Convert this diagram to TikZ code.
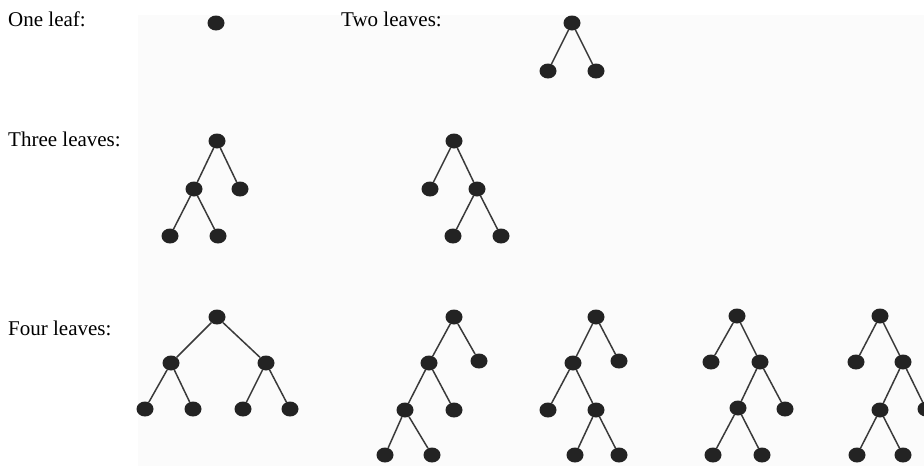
\documentclass[tikz,border=0pt]{standalone}
\usepackage{fontspec}
\setmainfont{Liberation Serif}
\usetikzlibrary{shapes.geometric}
\definecolor{dotgrey}{HTML}{232323}
\definecolor{wiregrey}{HTML}{3A3A3A}
\definecolor{panelgrey}{HTML}{FBFBFB}
\begin{document}
\begin{tikzpicture}[x=1pt, y=-1pt,
	leaf/.style={shape=ellipse, fill=dotgrey, minimum width=17pt, minimum height=15pt, inner sep=0pt},
	wire/.style={draw=wiregrey, line width=1.5pt},
	caption/.style={anchor=base west, inner sep=0pt, font=\fontsize{21}{25}\selectfont}]
	\clip (0, 0) rectangle (924, 466);
	\fill[white] (0, 0) rectangle (924, 466);
	\fill[panelgrey] (138, 15) rectangle (924, 466);
	% Captions:
	\node[caption] (one) at (8, 26){One leaf:};
	\node[caption] (two) at (341, 26){Two leaves:};
	\node[caption] (three) at (8, 146){Three leaves:};
	\node[caption] (four) at (8, 335){Four leaves:};
	% One leaf:
	\node[leaf] (a0) at (216, 23){};
	% Two leaves:
	\node[leaf] (b0) at (572, 23){};
	\node[leaf] (b1) at (548, 71){};
	\node[leaf] (b2) at (596, 71){};
	\draw[wire] (b0) -- (b1) (b0) -- (b2);
	% Three leaves, left:
	\node[leaf] (c0) at (217, 141){};
	\node[leaf] (c1) at (194, 189){};
	\node[leaf] (c2) at (240, 189){};
	\node[leaf] (c3) at (170, 236){};
	\node[leaf] (c4) at (218, 236){};
	\draw[wire] (c0) -- (c1) (c0) -- (c2) (c1) -- (c3) (c1) -- (c4);
	% Three leaves, right:
	\node[leaf] (d0) at (454, 141){};
	\node[leaf] (d1) at (430, 189){};
	\node[leaf] (d2) at (477, 189){};
	\node[leaf] (d3) at (453, 236){};
	\node[leaf] (d4) at (501, 236){};
	\draw[wire] (d0) -- (d1) (d0) -- (d2) (d2) -- (d3) (d2) -- (d4);
	% Four leaves, balanced:
	\node[leaf] (e0) at (217, 317){};
	\node[leaf] (e1) at (171, 363){};
	\node[leaf] (e2) at (266, 363){};
	\node[leaf] (e3) at (145, 409){};
	\node[leaf] (e4) at (193, 409){};
	\node[leaf] (e5) at (243, 409){};
	\node[leaf] (e6) at (290, 409){};
	\draw[wire] (e0) -- (e1) (e0) -- (e2) (e1) -- (e3) (e1) -- (e4) (e2) -- (e5) (e2) -- (e6);
	% Four leaves, left-left:
	\node[leaf] (f0) at (454, 317){};
	\node[leaf] (f1) at (429, 363){};
	\node[leaf] (f2) at (479, 361){};
	\node[leaf] (f3) at (405, 410){};
	\node[leaf] (f4) at (454, 410){};
	\node[leaf] (f5) at (385, 455){};
	\node[leaf] (f6) at (432, 455){};
	\draw[wire] (f0) -- (f1) (f0) -- (f2) (f1) -- (f3) (f1) -- (f4) (f3) -- (f5) (f3) -- (f6);
	% Four leaves, left-right:
	\node[leaf] (g0) at (596, 317){};
	\node[leaf] (g1) at (573, 363){};
	\node[leaf] (g2) at (619, 361){};
	\node[leaf] (g3) at (548, 410){};
	\node[leaf] (g4) at (596, 410){};
	\node[leaf] (g5) at (575, 455){};
	\node[leaf] (g6) at (619, 455){};
	\draw[wire] (g0) -- (g1) (g0) -- (g2) (g1) -- (g3) (g1) -- (g4) (g4) -- (g5) (g4) -- (g6);
	% Four leaves, right-left:
	\node[leaf] (h0) at (737, 316){};
	\node[leaf] (h1) at (711, 362){};
	\node[leaf] (h2) at (760, 362){};
	\node[leaf] (h3) at (738, 408){};
	\node[leaf] (h4) at (785, 409){};
	\node[leaf] (h5) at (713, 455){};
	\node[leaf] (h6) at (762, 455){};
	\draw[wire] (h0) -- (h1) (h0) -- (h2) (h2) -- (h3) (h2) -- (h4) (h3) -- (h5) (h3) -- (h6);
	% Four leaves, right-right (cut at the edge):
	\node[leaf] (k0) at (880, 316){};
	\node[leaf] (k1) at (856, 362){};
	\node[leaf] (k2) at (903, 362){};
	\node[leaf] (k3) at (880, 410){};
	\node[leaf] (k4) at (926, 409){};
	\node[leaf] (k5) at (857, 455){};
	\node[leaf] (k6) at (903, 455){};
	\draw[wire] (k0) -- (k1) (k0) -- (k2) (k2) -- (k3) (k2) -- (k4) (k3) -- (k5) (k3) -- (k6);
\end{tikzpicture}
\end{document}
